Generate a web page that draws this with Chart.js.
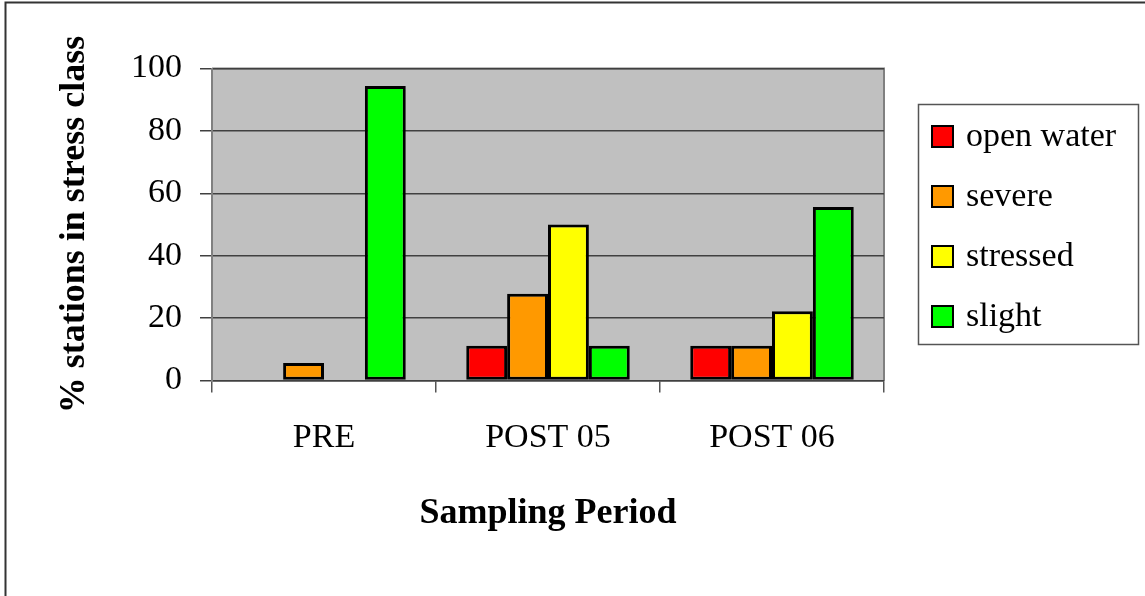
<!DOCTYPE html>
<html>
<head>
<meta charset="utf-8">
<title>Stations by stress class</title>
<script src="https://cdn.jsdelivr.net/npm/chart.js@4/dist/chart.umd.min.js"></script>
<style>
  html, body { margin: 0; padding: 0; background: #ffffff; }
  #wrap { width: 1145px; height: 596px; position: relative; }
</style>
</head>
<body>
<div id="wrap"><canvas id="chart"></canvas></div>
<script>
// Sampling periods and percentage of stations in each stress class
const categories = ['PRE', 'POST 05', 'POST 06'];
const seriesNames = ['open water', 'severe', 'stressed', 'slight'];
const openWater = [0, 11.1, 11.1];
const severe = [5.6, 27.8, 11.1];
const stressed = [0, 50, 22.2];
const slight = [94.4, 11.1, 55.6];
const seriesColors = ['#FF0000', '#FF9900', '#FFFF00', '#00FF00'];
const yTicks = [0, 20, 40, 60, 80, 100];
const xTitle = 'Sampling Period';
const yTitle = '% stations in stress class';

const FONT = "'Liberation Serif', 'Times New Roman', serif";

// Outer frame and grey plotting area drawn beneath the grid
const backdrop = {
  id: 'backdrop',
  beforeDraw(chart) {
    const { ctx, chartArea: a } = chart;
    ctx.save();
    ctx.fillStyle = '#ffffff';
    ctx.fillRect(0, 0, chart.width, chart.height);
    ctx.strokeStyle = '#333333';
    ctx.lineWidth = 2;
    ctx.strokeRect(5.5, 2.5, chart.width + 10, chart.height + 10);
    ctx.fillStyle = '#C0C0C0';
    ctx.fillRect(a.left, a.top, a.right - a.left, a.bottom - a.top);
    ctx.strokeStyle = '#808080';
    ctx.lineWidth = 2;
    ctx.beginPath();
    ctx.moveTo(a.left, a.top);
    ctx.lineTo(a.right, a.top);
    ctx.lineTo(a.right, a.bottom);
    ctx.stroke();
    ctx.restore();
  }
};

// Boxed legend on the right, built from the datasets
const boxLegend = {
  id: 'boxLegend',
  afterDraw(chart) {
    const { ctx } = chart;
    const box = { x: 918.5, y: 104.5, w: 220, h: 240 };
    ctx.save();
    ctx.fillStyle = '#ffffff';
    ctx.fillRect(box.x, box.y, box.w, box.h);
    ctx.strokeStyle = '#555555';
    ctx.lineWidth = 1.5;
    ctx.strokeRect(box.x, box.y, box.w, box.h);
    ctx.font = '34px ' + FONT;
    ctx.textBaseline = 'middle';
    ctx.textAlign = 'left';
    chart.data.datasets.forEach((ds, i) => {
      const cy = 136 + i * 60;
      ctx.fillStyle = ds.backgroundColor;
      ctx.fillRect(932, cy - 10, 21, 21);
      ctx.strokeStyle = '#000000';
      ctx.lineWidth = 2;
      ctx.strokeRect(932, cy - 10, 21, 21);
      ctx.fillStyle = '#000000';
      ctx.fillText(ds.label, 966, cy + 1);
    });
    ctx.restore();
  }
};

const seriesValues = [openWater, severe, stressed, slight];

new Chart(document.getElementById('chart'), {
  type: 'bar',
  data: {
    labels: categories,
    datasets: seriesNames.map((name, i) => ({
      label: name,
      data: seriesValues[i],
      backgroundColor: seriesColors[i],
      borderColor: '#000000',
      borderWidth: 3,
      borderSkipped: false,
      categoryPercentage: 0.73,
      barPercentage: 1.0
    }))
  },
  options: {
    responsive: true,
    maintainAspectRatio: false,
    animation: false,
    events: [],
    layout: { padding: { left: 50, right: 261, top: 68.5, bottom: 53 } },
    plugins: {
      legend: { display: false },
      tooltip: { enabled: false }
    },
    scales: {
      x: {
        grid: {
          offset: true,
          drawOnChartArea: false,
          drawTicks: true,
          tickLength: 12,
          color: '#555555',
          lineWidth: 1.5
        },
        border: { display: true, color: '#404040', width: 1.5 },
        ticks: {
          color: '#000000',
          font: { family: FONT, size: 34 },
          padding: 25,
          maxRotation: 0
        },
        title: {
          display: true,
          text: xTitle,
          color: '#000000',
          font: { family: FONT, size: 36, weight: 'bold' },
          padding: { top: 0, bottom: 8 }
        },
        afterFit(scale) { scale.height = 162.5; }
      },
      y: {
        min: 0,
        max: 100,
        afterBuildTicks(scale) { scale.ticks = yTicks.map(v => ({ value: v })); },
        grid: {
          color: '#404040',
          lineWidth: 1.5,
          drawTicks: true,
          tickLength: 12
        },
        border: { display: true, color: '#808080', width: 2 },
        ticks: {
          color: '#000000',
          font: { family: FONT, size: 34 },
          padding: 18
        },
        title: {
          display: true,
          text: yTitle,
          color: '#000000',
          font: { family: FONT, size: 36, weight: 'bold' },
          padding: { top: 3, bottom: 0 }
        },
        afterFit(scale) { scale.width = 162; }
      }
    }
  },
  plugins: [backdrop, boxLegend]
});
</script>
</body>
</html>
